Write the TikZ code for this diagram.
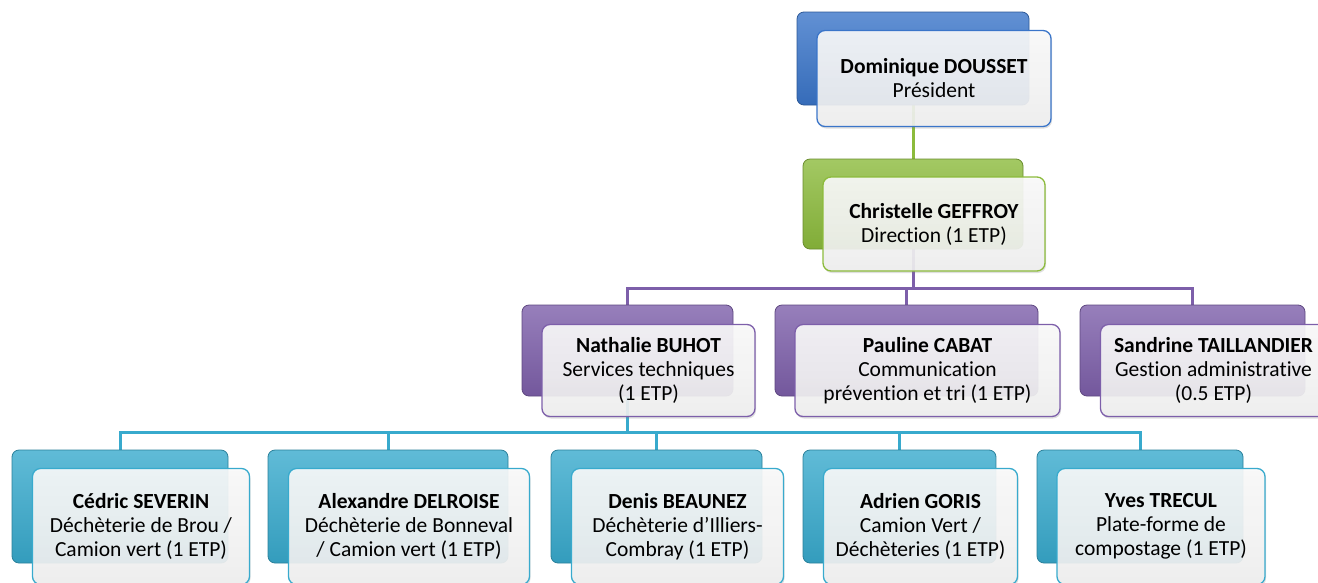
\documentclass[tikz,border=0pt]{standalone}
\usepackage{fontspec}
\setmainfont{Carlito}[Ligatures=NoCommon]
\usetikzlibrary{positioning, shadows}

\definecolor{ofblue}{HTML}{3A75C9}
\definecolor{ofgreen}{HTML}{8CBB3C}
\definecolor{ofpurple}{HTML}{7D5FAA}
\definecolor{ofaqua}{HTML}{38AACD}

\pgfdeclarelayer{background}
\pgfsetlayers{background,main}

\begin{document}
\begin{tikzpicture}[x=1pt, y=1pt,
  every node/.style={font={\fontsize{21.5}{24}\selectfont}, outer sep=0pt, inner sep=2pt},
  backbox/.style={rounded corners=7pt, top color=#1!80!white, middle color=#1, bottom color=#1!92!black, draw=#1!75!black, line width=0.8pt},
  frontbox/.style={rounded corners=8pt, draw=#1, line width=1.3pt, top color=gray!3, bottom color=gray!12, fill opacity=0.9, text opacity=1, align=center, drop shadow={opacity=0.25, shadow xshift=1pt, shadow yshift=-2pt}},
  link/.style={draw=#1, line width=3pt}]

\useasboundingbox (0,0) rectangle (1318,-582);

% Level 0
\node (pres-bk) [backbox=ofblue, minimum width=232pt, minimum height=93pt] at (913,-58.5) {};
\node (pres) [frontbox=ofblue, minimum width=234pt, minimum height=96pt] at ([shift={(21pt,-20pt)}]pres-bk.center) {\textbf{Dominique DOUSSET}\\Président};

% Level 1
\node (dir-bk) [backbox=ofgreen, minimum width=220pt, minimum height=90pt] at (913,-204) {};
\node (dir) [frontbox=ofgreen, minimum width=222pt, minimum height=94pt] at ([shift={(21pt,-20pt)}]dir-bk.center) {\textbf{Christelle GEFFROY}\\Direction (1 ETP)};

% Level 2
\node (nath-bk) [backbox=ofpurple, minimum width=211pt, minimum height=91pt] at (627.5,-350.5) {};
\node (nath) [frontbox=ofpurple, minimum width=213pt, minimum height=92pt] at ([shift={(21pt,-20pt)}]nath-bk.center) {\textbf{Nathalie BUHOT}\\Services techniques\\(1 ETP)};
\node (paul-bk) [backbox=ofpurple, right=42pt of nath-bk, minimum width=263pt, minimum height=91pt] {};
\node (paul) [frontbox=ofpurple, minimum width=265pt, minimum height=92pt] at ([shift={(21pt,-20pt)}]paul-bk.center) {\textbf{Pauline CABAT}\\Communication\\prévention et tri (1 ETP)};
\node (sand-bk) [backbox=ofpurple, right=42pt of paul-bk, minimum width=225pt, minimum height=91pt] {};
\node (sand) [frontbox=ofpurple, minimum width=226pt, minimum height=92pt] at ([shift={(21pt,-20pt)}]sand-bk.center) {\textbf{Sandrine TAILLANDIER}\\Gestion administrative\\(0.5 ETP)};

% Level 3
\node (ced-bk) [backbox=ofaqua, minimum width=216pt, minimum height=113pt] at (120,-506.5) {};
\node (ced) [frontbox=ofaqua, minimum width=217pt, minimum height=116pt] at ([shift={(21pt,-20pt)}]ced-bk.center) {\textbf{Cédric SEVERIN}\\Déchèterie de Brou /\\Camion vert (1 ETP)};
\node (alex-bk) [backbox=ofaqua, right=40pt of ced-bk, minimum width=240pt, minimum height=113pt] {};
\node (alex) [frontbox=ofaqua, minimum width=241pt, minimum height=116pt] at ([shift={(21pt,-20pt)}]alex-bk.center) {\textbf{Alexandre DELROISE}\\Déchèterie de Bonneval\\/ Camion vert (1 ETP)};
\node (den-bk) [backbox=ofaqua, right=43pt of alex-bk, minimum width=211pt, minimum height=113pt] {};
\node (den) [frontbox=ofaqua, minimum width=212pt, minimum height=116pt] at ([shift={(21pt,-20pt)}]den-bk.center) {\textbf{Denis BEAUNEZ}\\Déchèterie d’Illiers-\\Combray (1 ETP)};
\node (adr-bk) [backbox=ofaqua, right=41pt of den-bk, minimum width=193pt, minimum height=113pt] {};
\node (adr) [frontbox=ofaqua, minimum width=194pt, minimum height=116pt] at ([shift={(21pt,-20pt)}]adr-bk.center) {\textbf{Adrien GORIS}\\Camion Vert /\\Déchèteries (1 ETP)};
\node (yves-bk) [backbox=ofaqua, right=41pt of adr-bk, minimum width=206pt, minimum height=113pt] {};
\node (yves) [frontbox=ofaqua, minimum width=208pt, minimum height=116pt] at ([shift={(21pt,-20pt)}]yves-bk.center) {\textbf{Yves TRECUL}\\Plate-forme de\\compostage (1 ETP)};

% Bus lines
\coordinate (bus1) at (913,-288);
\coordinate (bus2) at (627.5,-432);

% Connectors
\begin{pgfonlayer}{background}
\draw[link=ofgreen] (pres-bk.south) -- (dir-bk.north);
\draw[link=ofpurple] (dir-bk.south) -- (bus1) -| (nath-bk.north);
\draw[link=ofpurple] (dir-bk.south) -- (bus1) -| (paul-bk.north);
\draw[link=ofpurple] (dir-bk.south) -- (bus1) -| (sand-bk.north);
\draw[link=ofaqua] (nath-bk.south) -- (bus2) -| (ced-bk.north);
\draw[link=ofaqua] (nath-bk.south) -- (bus2) -| (alex-bk.north);
\draw[link=ofaqua] (nath-bk.south) -- (bus2) -| (den-bk.north);
\draw[link=ofaqua] (nath-bk.south) -- (bus2) -| (adr-bk.north);
\draw[link=ofaqua] (nath-bk.south) -- (bus2) -| (yves-bk.north);
\end{pgfonlayer}

\end{tikzpicture}
\end{document}
